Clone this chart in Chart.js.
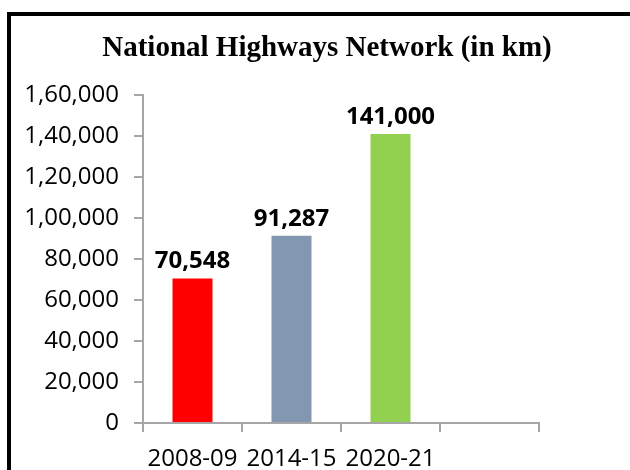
<!DOCTYPE html>
<html>
<head>
<meta charset="utf-8">
<title>National Highways Network</title>
<script src="https://cdn.jsdelivr.net/npm/chart.js@4.4.1/dist/chart.umd.min.js"></script>
<style>
  html, body { margin: 0; padding: 0; background: #fff; }
  #wrap { position: relative; width: 630px; height: 470px; overflow: hidden; }
  #frame {
    position: absolute; left: 7px; top: 12px; width: 700px; height: 500px;
    border-left: 4px solid #000; border-top: 4px solid #000; box-sizing: border-box;
  }
  #title {
    position: absolute; left: 0; top: 32px; width: 654px; text-align: center;
    font: bold 29px/29px "Liberation Serif", "Times New Roman", serif; color: #000;
    white-space: nowrap;
  }
  canvas { position: absolute; left: 0; top: 0; }
</style>
</head>
<body>
<div id="wrap">
  <div id="frame"></div>
  <canvas id="chart" width="630" height="470"></canvas>
  <div id="title">National Highways Network (in km)</div>
</div>
<script>
// ======= Data =======
const years = ['2008-09', '2014-15', '2020-21', ''];
const lengthKm = [70548, 91287, 141000, null];
const barColors = ['#ff0000', '#8497b0', '#92d050', '#ffffff'];
const yTicks = [0, 20000, 40000, 60000, 80000, 100000, 120000, 140000, 160000];

// ======= Helpers =======
// Indian digit grouping for the axis: 1,60,000
function indianFmt(n) {
  const s = String(Math.round(n));
  if (s.length <= 3) return s;
  const last3 = s.slice(-3);
  let rest = s.slice(0, -3);
  const parts = [];
  while (rest.length > 2) { parts.unshift(rest.slice(-2)); rest = rest.slice(0, -2); }
  if (rest) parts.unshift(rest);
  return parts.join(',') + ',' + last3;
}
const westFmt = n => String(n).replace(/\B(?=(\d{3})+(?!\d))/g, ',');

// value labels above bars
const barLabels = {
  id: 'barLabels',
  afterDatasetsDraw(chart) {
    const ctx = chart.ctx;
    const meta = chart.getDatasetMeta(0);
    ctx.save();
    ctx.font = 'bold 24px "Open Sans"';
    ctx.fillStyle = '#000';
    ctx.textAlign = 'center';
    ctx.textBaseline = 'alphabetic';
    meta.data.forEach((bar, i) => {
      const v = lengthKm[i];
      if (v == null) return;
      ctx.fillText(westFmt(v), bar.x, bar.y - 10);
    });
    ctx.restore();
  }
};

// ======= Chart =======
const axisGray = '#a6a6a6';
new Chart(document.getElementById('chart'), {
  type: 'bar',
  data: {
    labels: years,
    datasets: [{
      data: lengthKm,
      backgroundColor: barColors,
      barPercentage: 0.404,
      categoryPercentage: 1.0
    }]
  },
  options: {
    responsive: false,
    animation: false,
    layout: { padding: { left: 0, right: 91, top: 95, bottom: 0 } },
    plugins: {
      legend: { display: false },
      tooltip: { enabled: false },
      title: { display: false }
    },
    scales: {
      x: {
        offset: true,
        grid: { display: true, offset: true, drawOnChartArea: false, color: axisGray, tickLength: 9, lineWidth: 2 },
        border: { display: true, color: axisGray, width: 2 },
        ticks: { color: '#000', font: { family: '"Open Sans"', size: 24 }, padding: 13, maxRotation: 0, autoSkip: false },
        afterFit: s => { s.height = 47; }
      },
      y: {
        min: 0, max: 160000,
        afterBuildTicks: s => { s.ticks = yTicks.map(v => ({ value: v })); },
        grid: { display: true, drawOnChartArea: false, color: axisGray, tickLength: 9, lineWidth: 2 },
        border: { display: true, color: axisGray, width: 2 },
        ticks: { color: '#000', font: { family: '"Open Sans"', size: 24 }, padding: 15, callback: v => indianFmt(v) },
        afterFit: s => { s.width = 143; }
      }
    }
  },
  plugins: [barLabels]
});
</script>
</body>
</html>
